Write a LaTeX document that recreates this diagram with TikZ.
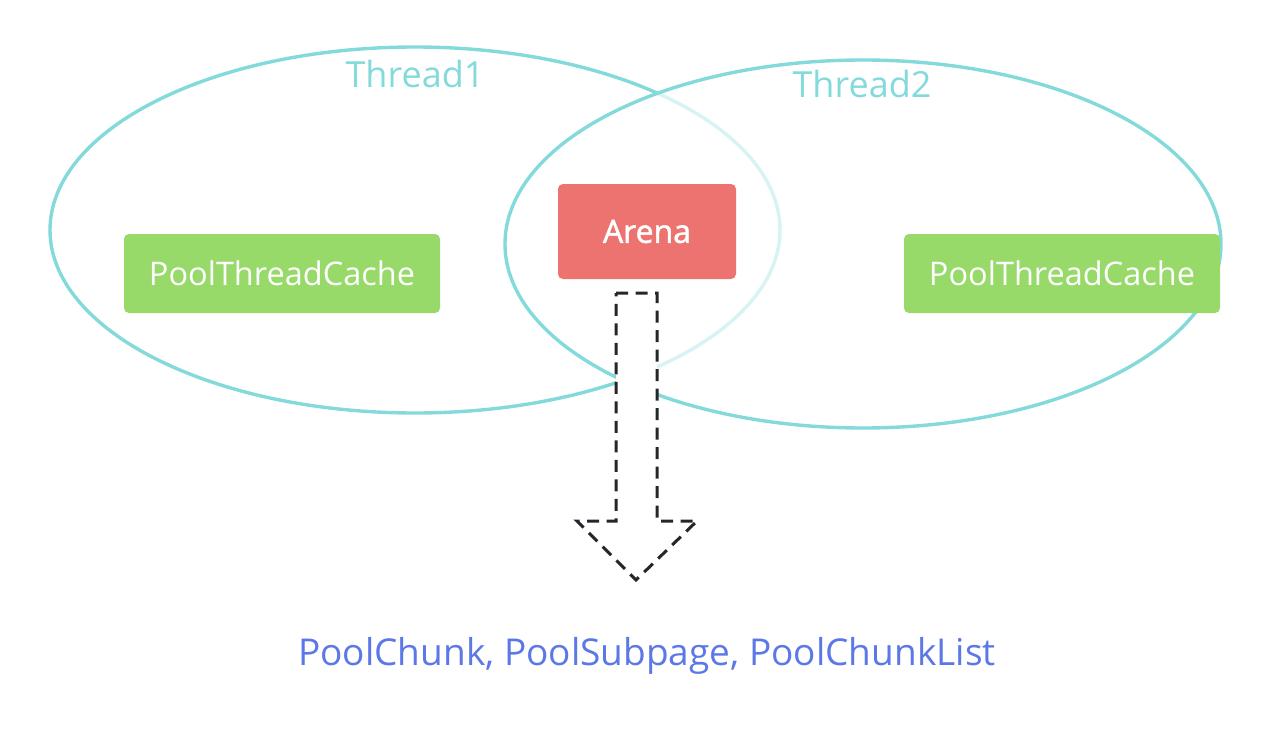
\documentclass[tikz,border=0pt]{standalone}
\usepackage{fontspec}
\setmainfont{Open Sans}
\definecolor{thr}{HTML}{84DADB}
\definecolor{arena}{HTML}{EC7370}
\definecolor{ptc}{HTML}{97DA6A}
\definecolor{chunk}{HTML}{5B78E6}
\definecolor{dark}{HTML}{23272B}
\begin{document}
\begin{tikzpicture}[x=1pt,y=-1pt,
  thread/.style={draw=thr, line width=3.4pt},
  threadlabel/.style={text=thr, font=\fontsize{36}{42}\selectfont},
  box/.style={rounded corners=5pt, text=white, inner sep=0pt, font=\fontsize{32.5}{38}\selectfont},
  bigarrow/.style={draw=dark, fill=white, line width=3pt, dash pattern=on 12pt off 7.5pt, line join=miter}
]
\useasboundingbox (0,0) rectangle (1270,752);
\draw[thread] (415,230) ellipse [x radius=365, y radius=183];
\fill[white, fill opacity=0.68] (863,244) ellipse [x radius=358, y radius=184];
\draw[thread] (863,244) ellipse [x radius=358, y radius=184];
\node[threadlabel] (t1) at (415,74) {Thread1};
\node[threadlabel] (t2) at (862,84) {Thread2};
\node[box, fill=arena, minimum width=178pt, minimum height=95pt, font=\fontsize{32}{38}\selectfont\addfontfeature{FakeBold=1.6}] (arena) at (647,231.5) {Arena};
\node[box, fill=ptc, minimum width=316pt, minimum height=79pt] (c1) at (282,273.5) {PoolThreadCache};
\node[box, fill=ptc, minimum width=316pt, minimum height=79pt] (c2) at (1062,273.5) {PoolThreadCache};
\draw[bigarrow] (616,293) -- (657,293) -- (657,521) -- (697,521) -- (636,580) -- (577,521) -- (616,521) -- cycle;
\node[text=chunk, font=\fontsize{37}{44}\selectfont] (pc) at (647,656) {PoolChunk, PoolSubpage, PoolChunkList};
\end{tikzpicture}
\end{document}
